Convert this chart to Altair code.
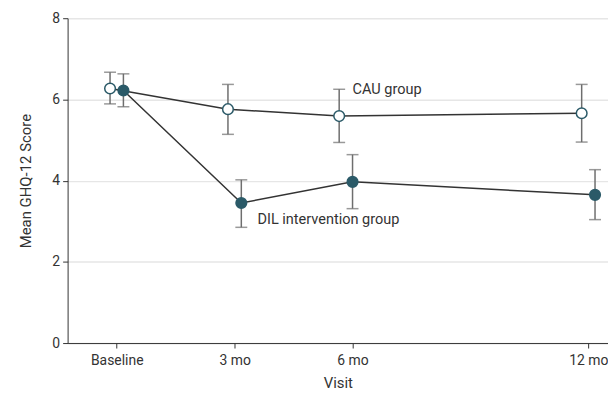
import altair as alt
import pandas as pd

months = [0, 3, 6, 12]
tick_labels = ["Baseline", "3 mo", "6 mo", "12 mo"]

cau_x = [-0.17, 2.83, 5.66, 11.83]
cau_mean = [6.27, 5.76, 5.59, 5.66]
cau_lo = [5.89, 5.14, 4.94, 4.95]
cau_hi = [6.67, 6.37, 6.25, 6.37]

dil_x = [0.17, 3.17, 6.0, 12.17]
dil_mean = [6.22, 3.45, 3.97, 3.65]
dil_lo = [5.82, 2.85, 3.31, 3.04]
dil_hi = [6.63, 4.02, 4.64, 4.27]

label_text = ["CAU group", "DIL intervention group"]
label_x = [6.0, 3.58]
label_y = [6.23, 3.04]

TEAL = "#2b5a68"
FONT = "Roboto"

rows = []
for g, xs, m, lo, hi in [("CAU", cau_x, cau_mean, cau_lo, cau_hi),
                         ("DIL", dil_x, dil_mean, dil_lo, dil_hi)]:
    for i in range(len(xs)):
        rows.append({"group": g, "x": xs[i], "mean": m[i], "lo": lo[i], "hi": hi[i], "order": i})
df = pd.DataFrame(rows)
labels = pd.DataFrame({"text": label_text, "x": label_x, "y": label_y})

label_expr = ("datum.value == 0 ? '%s' : datum.value == 3 ? '%s' : datum.value == 6 ? '%s' : '%s'"
              % tuple(tick_labels))

xscale = alt.Scale(domain=[-1.25, 12.5], nice=False, zero=False)
yscale = alt.Scale(domain=[0, 8], nice=False)

xenc = alt.X("x:Q", scale=xscale, title="Visit",
             axis=alt.Axis(values=months, labelExpr=label_expr, grid=False,
                           domainColor="#333", tickColor="#333", tickSize=5,
                           labelFont=FONT, labelFontSize=14, labelColor="#333",
                           titleFont=FONT, titleFontSize=15, titleColor="#333",
                           titleFontWeight="normal", labelPadding=6, titlePadding=8))
yenc = alt.Y("mean:Q", scale=yscale, title="Mean GHQ-12 Score",
             axis=alt.Axis(values=[0, 2, 4, 6, 8], grid=True, gridColor="#e6e6e6",
                           gridWidth=1.5, domainColor="#333", tickColor="#333",
                           tickSize=5, labelFont=FONT, labelFontSize=14,
                           labelColor="#333", titleFont=FONT, titleFontSize=15,
                           titleColor="#333", titleFontWeight="normal",
                           labelPadding=3, titlePadding=18))

base = alt.Chart(df)

lines = base.mark_line(color="#333", strokeWidth=1.5).encode(
    x=xenc, y=yenc, detail="group:N", order="order:Q")

bars = base.mark_rule(color="#6e6e6e", strokeWidth=1.5).encode(
    x="x:Q", y="lo:Q", y2="hi:Q")
caps_lo = base.mark_tick(color="#6e6e6e", orient="horizontal", size=12, thickness=1.5).encode(
    x="x:Q", y="lo:Q")
caps_hi = base.mark_tick(color="#6e6e6e", orient="horizontal", size=12, thickness=1.5).encode(
    x="x:Q", y="hi:Q")

points = base.mark_point(filled=True, size=115, strokeWidth=1.5, opacity=1).encode(
    x="x:Q", y="mean:Q",
    fill=alt.Fill("group:N", scale=alt.Scale(domain=["CAU", "DIL"], range=["white", TEAL]), legend=None),
    stroke=alt.value(TEAL))

text = alt.Chart(labels).mark_text(align="left", baseline="middle", font=FONT,
                                    fontSize=14.6, color="#333").encode(
    x="x:Q", y="y:Q", text="text:N")

chart = alt.layer(lines, bars, caps_lo, caps_hi, points, text).properties(
    width=544, height=327,
    autosize=alt.AutoSizeParams(type="none"),
    padding={"left": 60, "top": 9, "right": 0, "bottom": 50},
).configure_view(stroke=None)

chart.save("out.html", embed_options={"renderer": "svg", "actions": False})
